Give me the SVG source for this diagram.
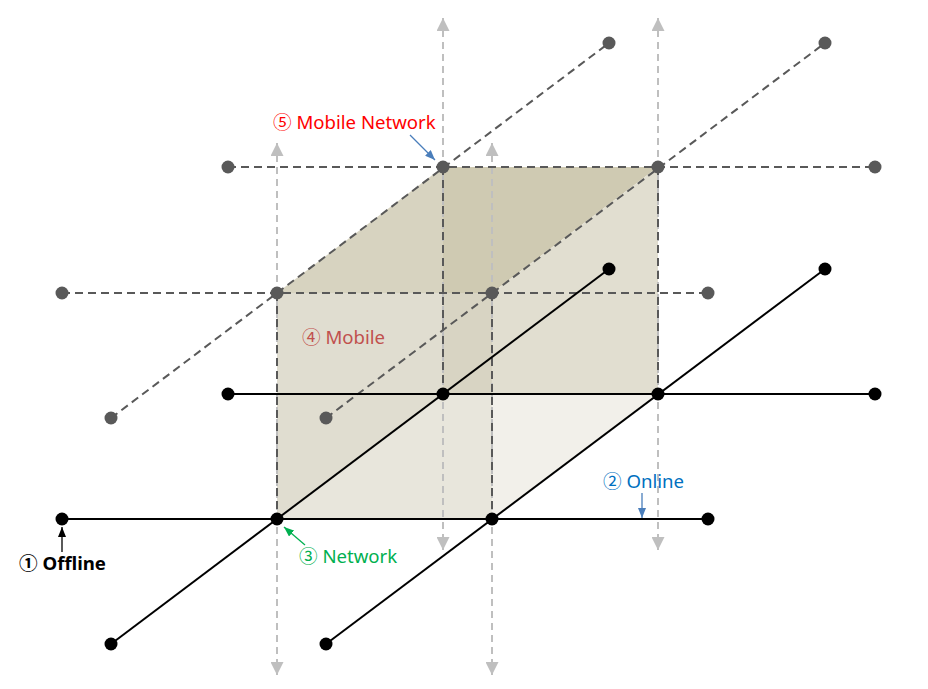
<svg xmlns="http://www.w3.org/2000/svg" width="928" height="689" viewBox="0 0 928 689">
<style>
.axis{stroke:#bfbfbf;stroke-width:2;stroke-dasharray:7 5;fill:none}
.dash{stroke:#595959;stroke-width:2;stroke-dasharray:8 5;fill:none}
.solid{stroke:#000;stroke-width:2;fill:none}
.dt{fill:#595959}
.db{fill:#000}
.lbl{font-family:"Noto Sans","Noto Sans CJK KR","DejaVu Sans",sans-serif;font-size:18.6px}
</style>
<defs>
<marker id="ga" viewBox="0 0 13 13" refX="13" refY="6.5" markerWidth="13" markerHeight="13" markerUnits="userSpaceOnUse" orient="auto-start-reverse">
<path d="M0,0 L13,6.5 L0,13 z" fill="#bfbfbf"/>
</marker>
<marker id="ba" viewBox="0 0 10 8" refX="10" refY="4" markerWidth="10" markerHeight="8" markerUnits="userSpaceOnUse" orient="auto">
<path d="M0,0 L10,4 L0,8 z" fill="#4a7ebb"/>
</marker>
<marker id="ka" viewBox="0 0 10 8" refX="10" refY="4" markerWidth="10" markerHeight="8" markerUnits="userSpaceOnUse" orient="auto">
<path d="M0,0 L10,4 L0,8 z" fill="#000"/>
</marker>
<marker id="na" viewBox="0 0 10 8" refX="10" refY="4" markerWidth="10" markerHeight="8" markerUnits="userSpaceOnUse" orient="auto">
<path d="M0,0 L10,4 L0,8 z" fill="#00b050"/>
</marker>
</defs>
<rect width="928" height="689" fill="#fff"/>
<g id="cube">
<polygon points="277,293 443,167 443,293" fill="#d7d3c0"/>
<polygon points="443,167 658,167 492,293 443,293" fill="#cfcab2"/>
<polygon points="277,293 443,293 443,394 277,519" fill="#e0ddd0"/>
<polygon points="443,293 492,293 492,394 443,394" fill="#d8d4c3"/>
<polygon points="277,519 443,394 492,394 492,519" fill="#e8e6dc"/>
<polygon points="492,293 658,167 658,394 492,394" fill="#e1ded0"/>
<polygon points="492,394 658,394 492,519" fill="#f2f0ea"/>
</g>
<g id="connectors">
<line class="axis" x1="277" y1="143" x2="277" y2="675" marker-start="url(#ga)" marker-end="url(#ga)"/>
<line class="axis" x1="492" y1="143" x2="492" y2="675" marker-start="url(#ga)" marker-end="url(#ga)"/>
<line class="axis" x1="443" y1="18" x2="443" y2="550" marker-start="url(#ga)" marker-end="url(#ga)"/>
<line class="axis" x1="658" y1="18" x2="658" y2="550" marker-start="url(#ga)" marker-end="url(#ga)"/>
<line class="dash" x1="277" y1="293" x2="277" y2="519"/>
<line class="dash" x1="492" y1="293" x2="492" y2="519"/>
<line class="dash" x1="443" y1="167" x2="443" y2="394"/>
<line class="dash" x1="658" y1="167" x2="658" y2="394"/>
<line class="dash" x1="62" y1="293" x2="708" y2="293"/>
<line class="dash" x1="228" y1="167" x2="875" y2="167"/>
<line class="dash" x1="111" y1="418" x2="609" y2="43"/>
<line class="dash" x1="326" y1="418" x2="825" y2="43"/>
<line class="solid" x1="62" y1="519" x2="708" y2="519"/>
<line class="solid" x1="228" y1="394" x2="875" y2="394"/>
<line class="solid" x1="111" y1="644" x2="609" y2="269"/>
<line class="solid" x1="326" y1="644" x2="825" y2="269"/>
<line x1="410" y1="135" x2="435" y2="160" stroke="#4a7ebb" stroke-width="1.3" marker-end="url(#ba)"/>
<line x1="62" y1="552" x2="62" y2="527" stroke="#000" stroke-width="1.3" marker-end="url(#ka)"/>
<line x1="305" y1="545" x2="284" y2="527" stroke="#00b050" stroke-width="1.3" marker-end="url(#na)"/>
<line x1="642" y1="493" x2="642" y2="518" stroke="#4a7ebb" stroke-width="1.3" marker-end="url(#ba)"/>
</g>
<g id="top-dots" class="dt">
<circle cx="62" cy="293" r="6.5"/><circle cx="277" cy="293" r="6.5"/><circle cx="492" cy="293" r="6.5"/><circle cx="708" cy="293" r="6.5"/>
<circle cx="228" cy="167" r="6.5"/><circle cx="443" cy="167" r="6.5"/><circle cx="658" cy="167" r="6.5"/><circle cx="875" cy="167" r="6.5"/>
<circle cx="111" cy="418" r="6.5"/><circle cx="609" cy="43" r="6.5"/>
<circle cx="326" cy="418" r="6.5"/><circle cx="825" cy="43" r="6.5"/>
</g>
<g id="bottom-dots" class="db">
<circle cx="62" cy="519" r="6.5"/><circle cx="277" cy="519" r="6.5"/><circle cx="492" cy="519" r="6.5"/><circle cx="708" cy="519" r="6.5"/>
<circle cx="228" cy="394" r="6.5"/><circle cx="443" cy="394" r="6.5"/><circle cx="658" cy="394" r="6.5"/><circle cx="875" cy="394" r="6.5"/>
<circle cx="111" cy="644" r="6.5"/><circle cx="609" cy="269" r="6.5"/>
<circle cx="326" cy="644" r="6.5"/><circle cx="825" cy="269" r="6.5"/>
</g>
<g id="label-mobile-network"><text class="lbl" x="273" y="129" fill="#ff0000">⑤ Mobile Network</text></g>
<g id="label-mobile"><text class="lbl" x="302" y="344" fill="#c0504d">④ Mobile</text></g>
<g id="label-online"><text class="lbl" x="603" y="488" fill="#0070c0">② Online</text></g>
<g id="label-network"><text class="lbl" x="299" y="563" fill="#00b050">③ Network</text></g>
<g id="label-offline"><text class="lbl" x="19" y="570" fill="#000" font-weight="bold" font-size="18">① Offline</text></g>
</svg>
